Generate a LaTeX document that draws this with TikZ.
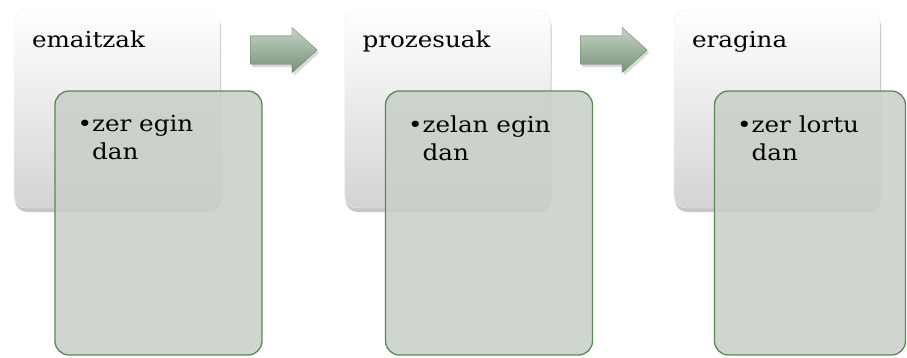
\documentclass[tikz,border=0pt]{standalone}
\usepackage{fontspec}
\setmainfont{DejaVu Serif}[FakeStretch=1.12]
\usetikzlibrary{shapes.arrows,shadows,positioning}

\definecolor{frontfill}{RGB}{200,208,200}
\definecolor{frontedge}{RGB}{88,138,80}
\definecolor{arrowtop}{RGB}{196,210,196}
\definecolor{arrowbot}{RGB}{120,146,120}

\tikzset{
  backbox/.style={rectangle, rounded corners=12pt, minimum width=206pt, minimum height=198pt,
    top color=white, bottom color=black!17, draw=black!6,
    drop shadow={opacity=0.45, shadow xshift=1pt, shadow yshift=-4pt}},
  frontbox/.style={rectangle, rounded corners=14pt, minimum width=207pt, minimum height=264pt,
    draw=frontedge, line width=1.3pt, fill=frontfill, fill opacity=0.88},
  steparrow/.style={single arrow, minimum height=67pt, minimum width=45pt,
    inner xsep=0pt, inner ysep=14pt, anchor=tail,
    single arrow head extend=8.5pt, single arrow tip angle=84,
    top color=arrowtop, bottom color=arrowbot, draw=arrowbot!80!black, line width=0.3pt,
    drop shadow={opacity=0.3, shadow xshift=2pt, shadow yshift=-3pt}},
  headtext/.style={anchor=north west, inner sep=0pt, font=\fontsize{22}{26}\selectfont},
  itemtext/.style={anchor=north west, inner sep=0pt, align=left, font=\fontsize{22}{28}\selectfont}
}

\begin{document}
\begin{tikzpicture}[x=1pt, y=-1pt]
  \useasboundingbox (0,0) rectangle (907,357);

  % results
  \node[backbox] (back1) at (117,109) {};
  \node[frontbox] (front1) at (158.5,223) {};
  \node[headtext, below right=21pt and 18pt of back1.north west] (head1) {emaitzak};
  \node[itemtext, below right=25pt and 23pt of front1.north west] (item1)
    {\textbullet{}zer egin\\\phantom{\textbullet{}}dan};

  \node[steparrow] (arrow1) at (250,50) {};

  % processes
  \node[backbox] (back2) at (447.5,109) {};
  \node[frontbox] (front2) at (489,223) {};
  \node[headtext, below right=21pt and 18pt of back2.north west] (head2) {prozesuak};
  \node[itemtext, below right=25pt and 23pt of front2.north west] (item2)
    {\textbullet{}zelan egin\\\phantom{\textbullet{}}dan};

  \node[steparrow] (arrow2) at (580,50) {};

  % impact
  \node[backbox] (back3) at (777,109) {};
  \node[frontbox, minimum width=191pt] (front3) at (810,223) {};
  \node[headtext, below right=21pt and 18pt of back3.north west] (head3) {eragina};
  \node[itemtext, below right=25pt and 23pt of front3.north west] (item3)
    {\textbullet{}zer lortu\\\phantom{\textbullet{}}dan};
\end{tikzpicture}
\end{document}
